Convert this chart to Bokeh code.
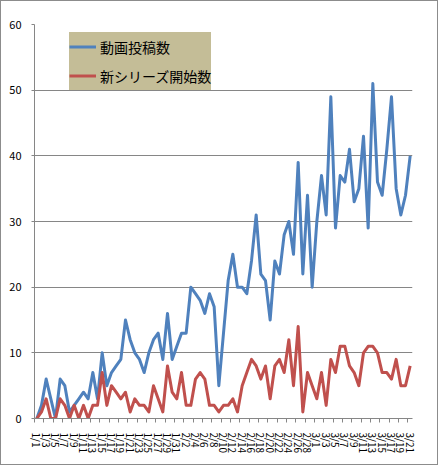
import datetime
from bokeh.plotting import figure
from bokeh.models import FixedTicker, Range1d
from bokeh.embed import file_html
from bokeh.resources import INLINE

# ---- data ----
start = datetime.date(2008, 1, 1)
n_days = 81
dates = [start + datetime.timedelta(days=i) for i in range(n_days)]
categories = [f"{d.month}/{d.day}" for d in dates]

series_names = ["動画投稿数", "新シリーズ開始数"]

videos = [0, 2, 6, 3, 0, 6, 5, 1, 2, 3,
          4, 3, 7, 3, 10, 5, 7, 8, 9, 15,
          12, 10, 9, 7, 10, 12, 13, 9, 16, 9,
          11, 13, 13, 20, 19, 18, 16, 19, 17, 5,
          13, 21, 25, 20, 20, 19, 24, 31, 22, 21,
          15, 24, 22, 28, 30, 25, 39, 22, 34, 20,
          30, 37, 31, 49, 29, 37, 36, 41, 33, 35,
          43, 29, 51, 36, 34, 41, 49, 35, 31, 34,
          40]

new_series = [0, 1, 3, 0, 0, 3, 2, 0, 2, 0,
              2, 0, 2, 2, 7, 2, 5, 4, 3, 4,
              1, 3, 2, 2, 1, 5, 3, 1, 8, 4,
              3, 7, 2, 2, 6, 7, 6, 2, 2, 1,
              2, 2, 3, 1, 5, 7, 9, 8, 6, 8,
              3, 8, 9, 7, 12, 5, 14, 1, 7, 5,
              3, 7, 2, 9, 7, 11, 11, 8, 7, 5,
              10, 11, 11, 10, 7, 7, 6, 9, 5, 5,
              8]

y_ticks = [0, 10, 20, 30, 40, 50, 60]
label_step = 2

# ---- styling ----
BLUE = "#4F81BD"
RED = "#C0504D"
GRID = "#868686"
FONT = "Noto Sans CJK JP"

x = list(range(n_days))

p = figure(frame_width=378, frame_height=394,
           x_range=Range1d(-0.5, n_days - 0.5), y_range=Range1d(0, 60),
           output_backend="svg", toolbar_location=None,
           min_border_left=33, min_border_right=25,
           min_border_top=23, min_border_bottom=46)
p.styles = {"border": "1px solid #8c8c8c"}
p.outline_line_color = None
p.background_fill_color = "white"
p.border_fill_color = "white"

p.line(x, videos, line_color=BLUE, line_width=3, line_join="round",
       legend_label=series_names[0])
p.line(x, new_series, line_color=RED, line_width=3, line_join="round",
       legend_label=series_names[1])

# x axis
label_idx = list(range(0, n_days, label_step))
p.xaxis.ticker = FixedTicker(ticks=label_idx,
                             minor_ticks=[i - 0.5 for i in label_idx])
p.xaxis.major_label_overrides = {i: categories[i] for i in label_idx}
p.xaxis.major_label_orientation = -1.5707963
p.xaxis.major_tick_out = 0
p.xaxis.major_tick_in = 0
p.xaxis.minor_tick_out = 4
p.xaxis.minor_tick_in = 0
p.xaxis.minor_tick_line_color = GRID
p.xaxis.axis_line_color = GRID
p.xaxis.major_label_standoff = 10
p.xaxis.major_label_text_font = FONT
p.xaxis.major_label_text_font_size = "10px"
p.xaxis.major_label_text_color = "black"
p.xgrid.grid_line_color = None

# y axis
p.yaxis.ticker = FixedTicker(ticks=y_ticks)
p.yaxis.major_tick_out = 3
p.yaxis.major_tick_in = 0
p.yaxis.minor_tick_line_color = None
p.yaxis.major_tick_line_color = GRID
p.yaxis.axis_line_color = GRID
p.yaxis.major_label_standoff = 10
p.yaxis.major_label_text_font = FONT
p.yaxis.major_label_text_font_size = "11px"
p.yaxis.major_label_text_color = "black"
p.ygrid.grid_line_color = GRID
p.ygrid.grid_line_width = 1

# legend
lg = p.legend[0]
lg.location = (35, 328)
lg.background_fill_color = "#C4BD97"
lg.background_fill_alpha = 1.0
lg.border_line_color = None
lg.glyph_width = 27
lg.glyph_height = 29
lg.label_height = 29
lg.label_width = 100
lg.label_standoff = 4
lg.padding = 5
lg.spacing = 0
lg.margin = 0
lg.label_text_font = FONT
lg.label_text_font_size = "14px"
lg.label_text_color = "black"

open("out.html", "w").write(file_html(p, INLINE))
